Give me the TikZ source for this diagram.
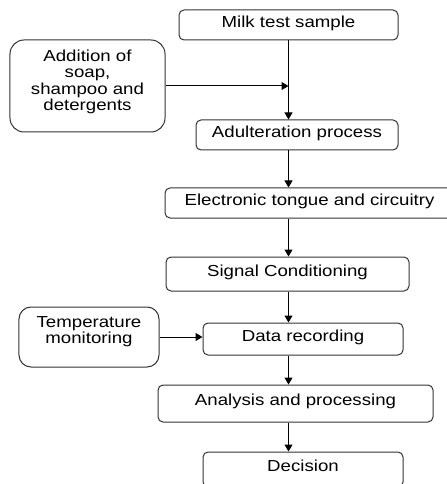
\documentclass[tikz,border=0pt]{standalone}
\usepackage{fontspec}
\setmainfont[FakeStretch=1.17]{Liberation Sans}
\usetikzlibrary{arrows.meta}

\tikzset{
  stage/.style={draw=black!80, line width=1bp, rounded corners=5bp, align=center,
    inner sep=0pt, text height=12bp, text depth=7.5bp},
  feed/.style={draw=black!80, line width=1bp, rounded corners=14bp, align=center,
    inner sep=0pt},
  flow/.style={->, line width=1bp},
}

\begin{document}
\begin{tikzpicture}[x=1bp, y=-1bp, >={Triangle[length=7bp,width=8bp]},
    font=\fontsize{16}{16.5}\selectfont]
  \useasboundingbox (0,0) rectangle (447,484);
  \clip (0,0) rectangle (447,484);

  % Main chain
  \node[stage, minimum width=219bp, minimum height=30bp] (milk) at (288.5,25) {Milk test sample};
  \node[stage, minimum width=202bp, minimum height=30bp] (adult) at (297,135) {Adulteration process};
  \node[stage, minimum width=289bp, minimum height=30bp] (tongue) at (309.5,203) {Electronic tongue and circuitry};
  \node[stage, minimum width=243bp, minimum height=34bp] (signal) at (287.5,274) {Signal Conditioning};
  \node[stage, minimum width=200bp, minimum height=32bp] (record) at (303,339) {Data recording};
  \node[stage, minimum width=275bp, minimum height=37bp] (analysis) at (295.5,403.5) {Analysis and processing};
  \node[stage, minimum width=200bp, minimum height=35bp] (decision) at (303,469.5) {Decision};

  % Side inputs
  \node[feed, minimum width=155bp, minimum height=92bp, text depth=11.5bp] (soap) at (87.5,86)
    {Addition of\\soap,\\shampoo and\\detergents};
  \node[feed, rounded corners=12bp, minimum width=140bp, minimum height=60bp, text depth=13.5bp] (temp) at (89,337)
    {Temperature\\monitoring};

  % Arrows down the spine
  \draw[flow] (milk.south) -- (milk.south |- adult.north);
  \draw[flow] (adult.south -| milk.south) -- (tongue.north -| milk.south);
  \draw[flow] (tongue.south -| milk.south) -- (signal.north -| milk.south);
  \draw[flow] (signal.south -| milk.south) -- (record.north -| milk.south);
  \draw[flow] (record.south -| milk.south) -- (analysis.north -| milk.south);
  \draw[flow] (analysis.south -| milk.south) -- (decision.north -| milk.south);

  % Side arrows
  \draw[flow] (soap.east) -- (soap.east -| milk.south);
  \draw[flow] (temp.east) -- (temp.east -| record.west);
\end{tikzpicture}
\end{document}
